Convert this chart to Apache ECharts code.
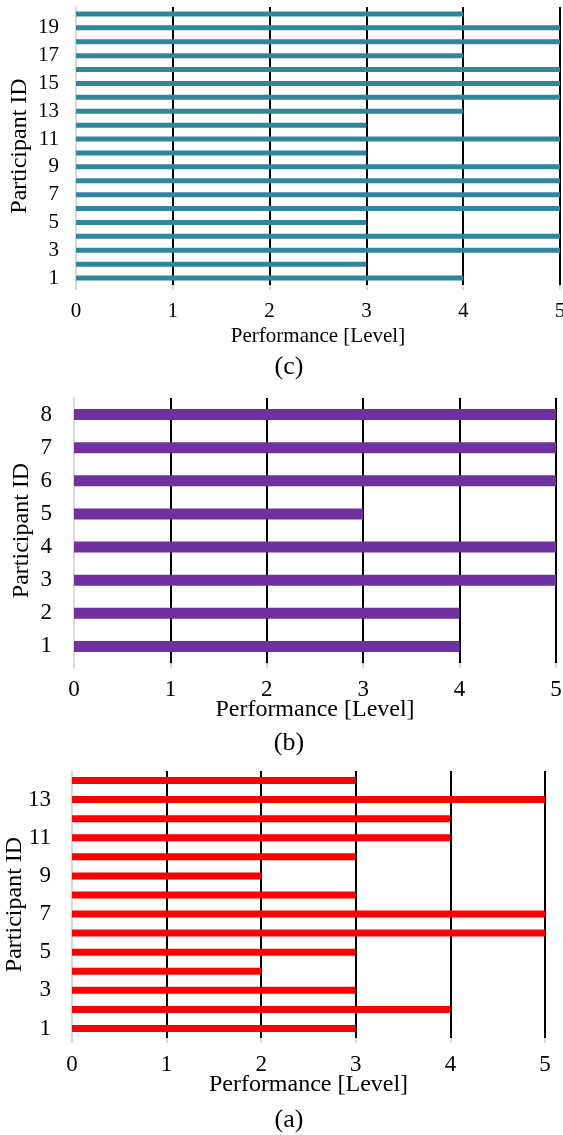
<!DOCTYPE html>
<html>
<head>
<meta charset="utf-8">
<script src="https://cdn.jsdelivr.net/npm/echarts@6/dist/echarts.min.js"></script>
<style>
  html, body { margin: 0; padding: 0; background: #fff; }
  #chart { width: 563px; height: 1135px; }
</style>
</head>
<body>
<div id="chart"></div>
<script>
// Performance level per participant, listed from participant 1 upward
const idsC = ['1','2','3','4','5','6','7','8','9','10','11','12','13','14','15','16','17','18','19','20'];
const perfC = [4, 3, 5, 5, 3, 5, 5, 5, 5, 3, 5, 3, 4, 5, 5, 5, 4, 5, 5, 4];

const idsB = ['1','2','3','4','5','6','7','8'];
const perfB = [4, 4, 5, 5, 3, 5, 5, 5];

const idsA = ['1','2','3','4','5','6','7','8','9','10','11','12','13','14'];
const perfA = [3, 4, 3, 2, 3, 5, 5, 3, 2, 3, 4, 4, 5, 3];

const levelTicks = [0, 1, 2, 3, 4, 5];

const FONT = '"Liberation Serif", "Times New Roman", serif';
const TXT = '#000';
const GRID_COLORS = ['#d9d9d9', '#000', '#000', '#000', '#000', '#000'];

// Panel boxes (pixels), text sizes and bar styling
const panels = [
  { ids: idsC, vals: perfC, color: '#31859c', barW: 5,  labelEvery: 1,
    box: { left: 76, top: 7, width: 484, height: 278 },
    tickFont: 21, tickMargin: 16, yLabelMargin: 17, nameFont: 21, xNameGap: 41, yNameGap: 44,
    caption: '(c)', capTop: 349 },
  { ids: idsB, vals: perfB, color: '#7030a0', barW: 11, labelEvery: 0,
    box: { left: 74, top: 398, width: 482, height: 265 },
    tickFont: 23, tickMargin: 15, yLabelMargin: 22, nameFont: 24, xNameGap: 35, yNameGap: 40,
    caption: '(b)', capTop: 725 },
  { ids: idsA, vals: perfA, color: '#ff0000', barW: 7,  labelEvery: 1,
    box: { left: 72, top: 771, width: 473, height: 267 },
    tickFont: 23, tickMargin: 15, yLabelMargin: 21, nameFont: 24, xNameGap: 35, yNameGap: 45,
    caption: '(a)', capTop: 1102 }
];

const option = {
  backgroundColor: '#fff',
  animation: false,
  title: panels.map(p => ({
    text: p.caption,
    left: 284, top: p.capTop, textAlign: 'center',
    textStyle: { fontFamily: FONT, fontSize: 26, fontWeight: 'normal', color: TXT }
  })),
  grid: panels.map(p => Object.assign({ containLabel: false, outerBoundsMode: 'none' }, p.box)),
  xAxis: panels.map((p, i) => ({
    type: 'value', gridIndex: i,
    min: levelTicks[0], max: levelTicks[levelTicks.length - 1], interval: 1,
    name: 'Performance [Level]', nameLocation: 'middle', nameGap: p.xNameGap,
    nameMoveOverlap: false,
    nameTextStyle: { fontFamily: FONT, fontSize: p.nameFont, color: TXT },
    axisLine: { show: false },
    axisTick: { show: true, length: 5, lineStyle: { color: GRID_COLORS, width: 2 } },
    axisLabel: { margin: p.tickMargin, fontFamily: FONT, fontSize: p.tickFont, color: TXT },
    splitLine: { show: true, lineStyle: { color: GRID_COLORS, width: 2 } }
  })),
  yAxis: panels.map((p, i) => ({
    type: 'category', gridIndex: i, data: p.ids,
    name: 'Participant ID', nameLocation: 'middle', nameRotate: 90, nameGap: p.yNameGap,
    nameMoveOverlap: false,
    nameTextStyle: { fontFamily: FONT, fontSize: 24, color: TXT },
    axisLine: { show: true, lineStyle: { color: '#d9d9d9', width: 2 } },
    axisTick: { show: false },
    axisLabel: { interval: p.labelEvery, margin: p.yLabelMargin, fontFamily: FONT, fontSize: p.tickFont, color: TXT },
    splitLine: { show: false }
  })),
  series: panels.map((p, i) => ({
    type: 'bar', xAxisIndex: i, yAxisIndex: i,
    data: p.vals, barWidth: p.barW,
    itemStyle: { color: p.color },
    z: 3
  }))
};

const chart = echarts.init(document.getElementById('chart'), null, { renderer: 'canvas' });
chart.setOption(option);
</script>
</body>
</html>
